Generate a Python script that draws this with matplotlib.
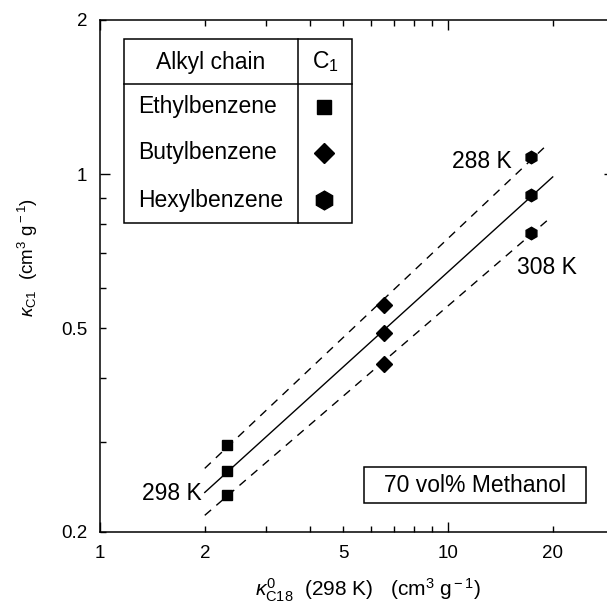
import numpy as np
import matplotlib
matplotlib.use('Agg')
import matplotlib.pyplot as plt
from matplotlib.patches import Rectangle
from matplotlib.lines import Line2D
from matplotlib.ticker import FuncFormatter

plt.rcParams['font.family'] = ['Liberation Sans', 'DejaVu Sans']
plt.rcParams['mathtext.fontset'] = 'custom'
plt.rcParams['mathtext.rm'] = 'Liberation Sans'
plt.rcParams['mathtext.it'] = 'Liberation Sans:italic'

# retention data, one value per alkylbenzene (ethyl, butyl, hexyl)
solutes = ['Ethylbenzene', 'Butylbenzene', 'Hexylbenzene']
markers = ['s', 'D', 'h']
kappa_c18 = [2.31, 6.55, 17.3]
kappa_288 = [0.296, 0.555, 1.08]
kappa_298 = [0.263, 0.489, 0.91]
kappa_308 = [0.236, 0.426, 0.767]

x_ticks_labeled = [1, 2, 5, 10, 20]
y_ticks_labeled = [0.2, 0.5, 1, 2]

W, H = 607, 604
fig = plt.figure(figsize=(W / 100, H / 100), dpi=100)
# right spine sits just past the figure edge
ax = fig.add_axes([100 / W, (H - 532) / H, 514 / W, 512 / H])
ax.set_xscale('log')
ax.set_yscale('log')
ax.set_xlim(1, 30)
ax.set_ylim(0.2, 2)

ms_main = {'s': 7.6, 'D': 7.8, 'h': 9.0}
for i, m in enumerate(markers):
    for series in (kappa_288, kappa_298, kappa_308):
        ax.plot(kappa_c18[i], series[i], marker=m, color='black',
                markersize=ms_main[m], linestyle='none', zorder=3)

# log-log regression line for each temperature
lx = np.log10(kappa_c18)
for series, ls, xend in ((kappa_298, '-', 20), (kappa_288, '--', 19.5), (kappa_308, '--', 19.5)):
    b, a = np.polyfit(lx, np.log10(series), 1)
    xs = np.array([2.0, xend])
    line, = ax.plot(xs, 10 ** (a + b * np.log10(xs)), color='black', lw=1.0, linestyle=ls)
    if ls == '--':
        line.set_dashes((6, 5))

# ticks: long at decades, short elsewhere, all pointing in
ax.set_xticks([1, 10])
ax.set_xticks([2, 3, 4, 5, 6, 7, 8, 9, 20, 30], minor=True)
ax.set_yticks([1])
ax.set_yticks([0.2, 0.3, 0.4, 0.5, 0.6, 0.7, 0.8, 0.9, 2], minor=True)

def fmt(vals):
    return FuncFormatter(lambda v, p: ('%g' % v) if any(abs(v - t) < 1e-9 for t in vals) else '')

for axis, labeled in ((ax.xaxis, x_ticks_labeled), (ax.yaxis, y_ticks_labeled)):
    axis.set_major_formatter(fmt(labeled))
    axis.set_minor_formatter(fmt(labeled))

ax.tick_params(which='both', direction='in', top=True, right=True, labelsize=13.5, width=1.0)
ax.tick_params(which='major', length=7.5)
ax.tick_params(which='minor', length=4.5)
ax.tick_params(axis='x', which='both', pad=9)
ax.tick_params(axis='y', which='both', pad=9)
for s in ax.spines.values():
    s.set_linewidth(1.1)

# temperature labels
ax.text(15.2, 1.06, '288 K', fontsize=16.5, ha='right', va='center')
ax.text(19.2, 0.658, '308 K', fontsize=16.5, ha='center', va='center')
ax.text(2.0 * 0.98, 0.238, '298 K', fontsize=16.5, ha='right', va='center')

def fx(px):
    return px / W

def fy(py):
    return (H - py) / H

def box(x0, y0, x1, y1):
    fig.patches.append(Rectangle((fx(x0), fy(y1)), fx(x1) - fx(x0), fy(y0) - fy(y1),
                                 transform=fig.transFigure, fill=False, lw=1.1, ec='black'))

# legend table
box(124, 39, 352, 223)
fig.lines.append(Line2D([fx(124), fx(352)], [fy(84), fy(84)], transform=fig.transFigure,
                        color='black', lw=1.1))
fig.lines.append(Line2D([fx(298), fx(298)], [fy(39), fy(223)], transform=fig.transFigure,
                        color='black', lw=1.1))
fig.text(fx(211), fy(62), 'Alkyl chain', fontsize=16.5, ha='center', va='center')
fig.text(fx(325), fy(62), r'C$_{\rm 1}$', fontsize=16.5, ha='center', va='center')
row_y = [107, 153, 200]
ms_leg = {'s': 10.5, 'D': 10.5, 'h': 13.5}
for name, m, y in zip(solutes, markers, row_y):
    fig.text(fx(138), fy(y), name, fontsize=16.5, ha='left', va='center')
    fig.lines.append(Line2D([fx(324)], [fy(y)], transform=fig.transFigure, marker=m,
                            color='black', markersize=ms_leg[m], linestyle='none'))

# eluent box
box(364, 467, 586, 503)
fig.text(fx(475), fy(485), '70 vol% Methanol', fontsize=16.5, ha='center', va='center')

# axis titles
fig.text(fx(368), fy(590), r'$\kappa^{\rm 0}_{\rm C18}$  (298 K)   (cm$^{\rm 3}$ g$^{\rm -1}$)',
         fontsize=15, ha='center', va='center')
fig.text(fx(28), fy(257), r'$\kappa_{\rm C1}$  (cm$^{\rm 3}$ g$^{\rm -1}$)',
         fontsize=13.5, ha='center', va='center', rotation=90)

fig.savefig('out.png', dpi=100)
